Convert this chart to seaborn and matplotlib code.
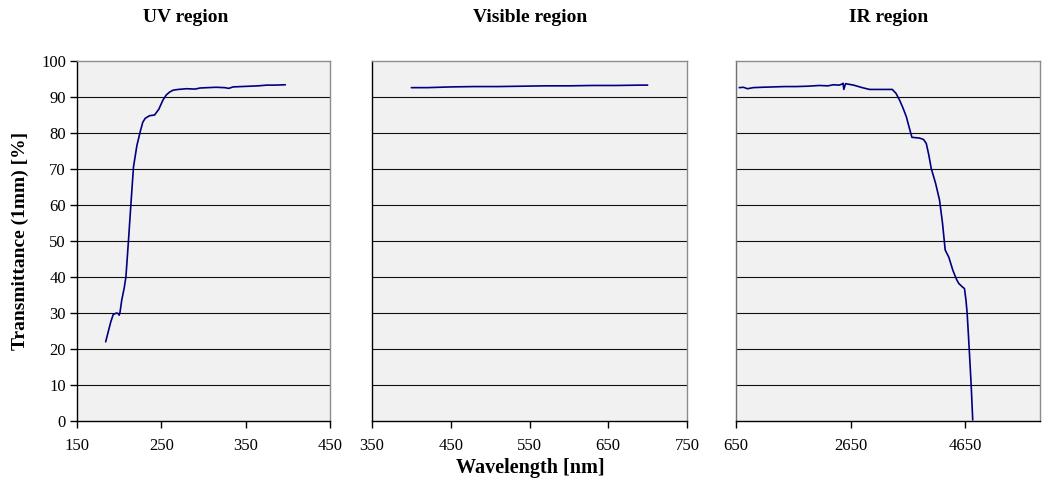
import matplotlib
matplotlib.use("Agg")
import matplotlib.pyplot as plt
import seaborn as sns
import pandas as pd

# ── Data ──────────────────────────────────────────────────
uv_wl = [184, 190, 193, 197, 199, 200, 201, 203, 206, 208, 211, 214, 217,
         221, 225, 228, 231, 236, 242, 247, 252, 256, 260, 264, 270, 280,
         290, 296, 305, 315, 325, 330, 335, 345, 355, 365, 375, 385, 397]
uv_tr = [22.0, 27.5, 29.6, 30.0, 29.8, 29.4, 30.2, 33.5, 37.0, 40.0, 50.0,
         60.5, 70.6, 76.5, 80.4, 83.0, 84.1, 84.8, 85.0, 86.6, 89.2, 90.6,
         91.4, 91.9, 92.1, 92.3, 92.2, 92.5, 92.6, 92.7, 92.6, 92.4, 92.8,
         92.9, 93.0, 93.1, 93.3, 93.3, 93.4]

vis_wl = [400, 420, 450, 480, 510, 540, 570, 600, 630, 660, 690, 700]
vis_tr = [92.6, 92.6, 92.8, 92.9, 92.9, 93.0, 93.1, 93.1, 93.2, 93.2, 93.3, 93.3]

ir_wl = [707, 780, 850, 950, 1100, 1300, 1500, 1700, 1900, 2100, 2250, 2350,
         2450, 2500, 2517, 2530, 2560, 2700, 2850, 2980, 3200, 3375, 3440,
         3500, 3560, 3620, 3670, 3717, 3780, 3850, 3920, 3967, 4010, 4053,
         4130, 4198, 4250, 4297, 4360, 4430, 4490, 4534, 4600, 4633, 4660,
         4680, 4700, 4720, 4750, 4777]
ir_tr = [92.6, 92.7, 92.3, 92.6, 92.7, 92.8, 92.9, 92.9, 93.0, 93.2, 93.1,
         93.4, 93.3, 93.6, 93.8, 92.1, 93.7, 93.3, 92.6, 92.1, 92.1, 92.1,
         91.0, 89.2, 87.0, 84.5, 81.5, 78.8, 78.7, 78.6, 78.2, 77.1, 74.0,
         70.2, 66.0, 61.4, 55.0, 47.5, 45.5, 41.9, 39.5, 38.2, 37.2, 36.8,
         33.5, 29.9, 24.5, 18.8, 10.0, 0.3]

titles = ["UV region", "Visible region", "IR region"]
xlims = [(150, 450), (350, 750), (650, 5950)]
xticks = [[150, 250, 350, 450], [350, 450, 550, 650, 750], [650, 2650, 4650]]
yticks = list(range(0, 101, 10))

series = [(uv_wl, uv_tr), (vis_wl, vis_tr), (ir_wl, ir_tr)]

# ── Style ─────────────────────────────────────────────────
sns.set_theme(style="white")
plt.rcParams['font.family'] = ['Liberation Serif', 'DejaVu Serif']
plt.rcParams['text.color'] = 'black'
plt.rcParams['xtick.color'] = 'black'
plt.rcParams['ytick.color'] = 'black'

fig = plt.figure(figsize=(10.42, 4.86), dpi=100)
positions = [
    [77/1042, 1 - 421/486, 253/1042, 360/486],
    [372/1042, 1 - 421/486, 315/1042, 360/486],
    [736/1042, 1 - 421/486, 304/1042, 360/486],
]
title_x = [186, 530, 889]

for i, (pos, (wl, tr)) in enumerate(zip(positions, series)):
    ax = fig.add_axes(pos)
    ax.set_facecolor('#f1f1f1')
    df = pd.DataFrame({'wl': wl, 'tr': tr})
    sns.lineplot(data=df, x='wl', y='tr', ax=ax, color='#000080',
                 linewidth=1.2, sort=False)
    ax.set_xlim(*xlims[i])
    ax.set_ylim(0, 100)
    ax.set_xticks(xticks[i])
    ax.set_yticks(yticks)
    for y in yticks[1:-1]:
        ax.axhline(y, color='#111111', linewidth=0.8, zorder=0.5)
    ax.set_xlabel('')
    ax.set_ylabel('')
    ax.tick_params(axis='x', bottom=True, direction='out', length=5, width=1,
                   color='black', labelcolor='black', labelsize=12, pad=7)
    if i == 0:
        ax.tick_params(axis='y', left=True, direction='out', length=5, width=1,
                       color='black', labelcolor='black', labelsize=12, pad=3)
    else:
        ax.tick_params(axis='y', left=False, labelleft=False)
    for side in ['left', 'bottom']:
        ax.spines[side].set_color('#000000')
        ax.spines[side].set_linewidth(1.0)
    for side in ['top', 'right']:
        ax.spines[side].set_color('#8c8c8c')
        ax.spines[side].set_linewidth(1.0)
    if i == 2:
        ax.spines['left'].set_color('#707070')
    fig.text(title_x[i] / 1042, 1 - 18 / 486, titles[i], ha='center',
             va='center', fontsize=14, fontweight='bold', color='black')

fig.text(20 / 1042, 1 - 241 / 486, 'Transmittance (1mm) [%]', rotation=90,
         ha='center', va='center', fontsize=14, fontweight='bold', color='black')
fig.text(530 / 1042, 1 - 468 / 486, 'Wavelength [nm]', ha='center',
         va='center', fontsize=14.5, fontweight='bold', color='black')

fig.savefig('out.png', dpi=100)
